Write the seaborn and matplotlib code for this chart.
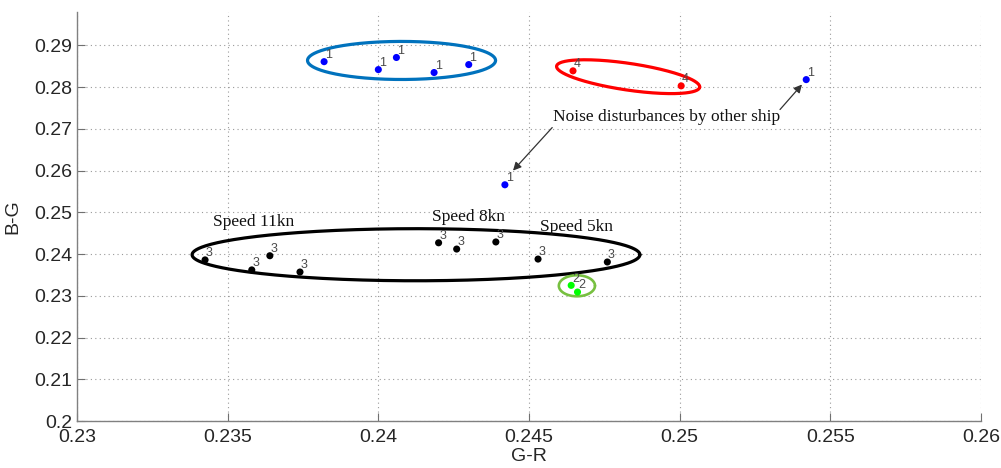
import numpy as np
import pandas as pd
import matplotlib
matplotlib.use("Agg")
import matplotlib.pyplot as plt
import seaborn as sns

# ---------------- data ----------------
gr_vals = [0.2382, 0.2400, 0.2406, 0.24185, 0.2430, 0.2442, 0.2542,
           0.24646, 0.25005,
           0.24640, 0.24661,
           0.23425, 0.2358, 0.2364, 0.2374, 0.2420, 0.2426, 0.2439, 0.2453, 0.2476]
bg_vals = [0.2861, 0.2842, 0.2871, 0.2835, 0.2854, 0.2566, 0.2818,
           0.2839, 0.2803,
           0.2325, 0.2309,
           0.2386, 0.2362, 0.2396, 0.2357, 0.2427, 0.2412, 0.2429, 0.2388, 0.2381]
class_ids = ["1", "1", "1", "1", "1", "1", "1",
             "4", "4",
             "2", "2",
             "3", "3", "3", "3", "3", "3", "3", "3", "3"]

x_ticks = [0.23, 0.235, 0.24, 0.245, 0.25, 0.255, 0.26]
x_tick_labels = ["0.23", "0.235", "0.24", "0.245", "0.25", "0.255", "0.26"]
y_ticks = [0.20, 0.21, 0.22, 0.23, 0.24, 0.25, 0.26, 0.27, 0.28, 0.29]
y_tick_labels = ["0.2", "0.21", "0.22", "0.23", "0.24", "0.25", "0.26", "0.27", "0.28", "0.29"]

# ellipse groups: centre (x, y), half-extent in x-units, half-extent in y-units, tilt (deg, screen)
ellipse_cx = [0.24077, 0.24829, 0.24125, 0.24659]
ellipse_cy = [0.28639, 0.28250, 0.23984, 0.23240]
ellipse_ax = [0.00312, 0.00240, 0.00743, 0.00060]
ellipse_by = [0.00456, 0.00320, 0.00624, 0.00252]
ellipse_tilt = [0.0, -8.4, 0.0, 0.0]
ellipse_colors = ["#0072BD", "#FF0000", "#000000", "#77C040"]
ellipse_lw = [2.3, 2.3, 2.3, 1.9]

speed_labels = ["Speed 11kn", "Speed 8kn", "Speed 5kn"]
speed_x = [0.23451, 0.24178, 0.24537]
speed_y = [0.24776, 0.24896, 0.24656]

noise_text = "Noise disturbances by other ship"
noise_xy = (0.24580, 0.27295)
arrow_tails = [(0.24577, 0.27031), (0.25333, 0.27463)]
arrow_heads = [(0.24447, 0.26000), (0.25406, 0.28063)]

# ---------------- plot ----------------
sns.set_theme(style="white")
plt.rcParams["font.family"] = ["Liberation Sans", "DejaVu Sans"]

W, H, DPI = 1001, 468, 100
fig = plt.figure(figsize=(W / DPI, H / DPI), dpi=DPI)
ax = fig.add_axes([77 / W, 47 / H, 904 / W, 409 / H])

df = pd.DataFrame({"G-R": gr_vals, "B-G": bg_vals, "cls": class_ids})
palette = {"1": "#0000FF", "2": "#00FF00", "3": "#000000", "4": "#FF0000"}
sns.scatterplot(data=df, x="G-R", y="B-G", hue="cls", palette=palette,
                s=26, linewidth=0, legend=False, ax=ax, zorder=3)

for x, y, c in zip(gr_vals, bg_vals, class_ids):
    ax.annotate(c, (x, y), xytext=(0.5, 0.5), textcoords="offset points",
                ha="left", va="bottom", fontsize=9, color="#4a4a4a", zorder=4)

xlim = (0.23, 0.26)
ylim = (0.2, 0.298)
ax.set_xlim(*xlim)
ax.set_ylim(*ylim)

# ellipses drawn in screen-proportional space
sx = 904 / (xlim[1] - xlim[0])
sy = 409 / (ylim[1] - ylim[0])
t = np.linspace(0, 2 * np.pi, 400)
for cx, cy, a, b, ang, col, lw in zip(ellipse_cx, ellipse_cy, ellipse_ax, ellipse_by,
                                      ellipse_tilt, ellipse_colors, ellipse_lw):
    u = a * sx * np.cos(t)
    v = b * sy * np.sin(t)
    th = np.deg2rad(ang)
    px = u * np.cos(th) - v * np.sin(th)
    py = u * np.sin(th) + v * np.cos(th)
    ax.plot(cx + px / sx, cy + py / sy, color=col, lw=lw, zorder=2)

serif = ["Liberation Serif", "DejaVu Serif"]
for lab, x, y in zip(speed_labels, speed_x, speed_y):
    ax.text(x, y, lab, family=serif, fontsize=12.5, ha="left", va="center", color="#111111")

ax.text(noise_xy[0], noise_xy[1], noise_text, family=serif, fontsize=12.5,
        ha="left", va="center", color="#111111")
for tail, head in zip(arrow_tails, arrow_heads):
    ax.annotate("", xy=head, xytext=tail,
                arrowprops=dict(arrowstyle="-|>", color="#333333", lw=0.9,
                                mutation_scale=12, shrinkA=0, shrinkB=0))

ax.set_xticks(x_ticks)
ax.set_xticklabels(x_tick_labels)
ax.set_yticks(y_ticks)
ax.set_yticklabels(y_tick_labels)
ax.grid(True, linestyle=(0, (1, 3)), color="#9a9a9a", lw=0.8)
ax.tick_params(direction="in", length=6, width=0.8, color="#707070",
               labelsize=14, labelcolor="#262626",
               bottom=True, left=True)
ax.tick_params(axis="x", pad=6)
ax.tick_params(axis="y", pad=3.5)
for side in ["top", "right"]:
    ax.spines[side].set_visible(False)
for side in ["left", "bottom"]:
    ax.spines[side].set_color("#808080")
    ax.spines[side].set_linewidth(1.0)

ax.set_xlabel("G-R", fontsize=14, color="#262626", labelpad=1)
ax.set_ylabel("B-G", fontsize=14, color="#262626", labelpad=9)

fig.savefig("out.png", dpi=DPI)
